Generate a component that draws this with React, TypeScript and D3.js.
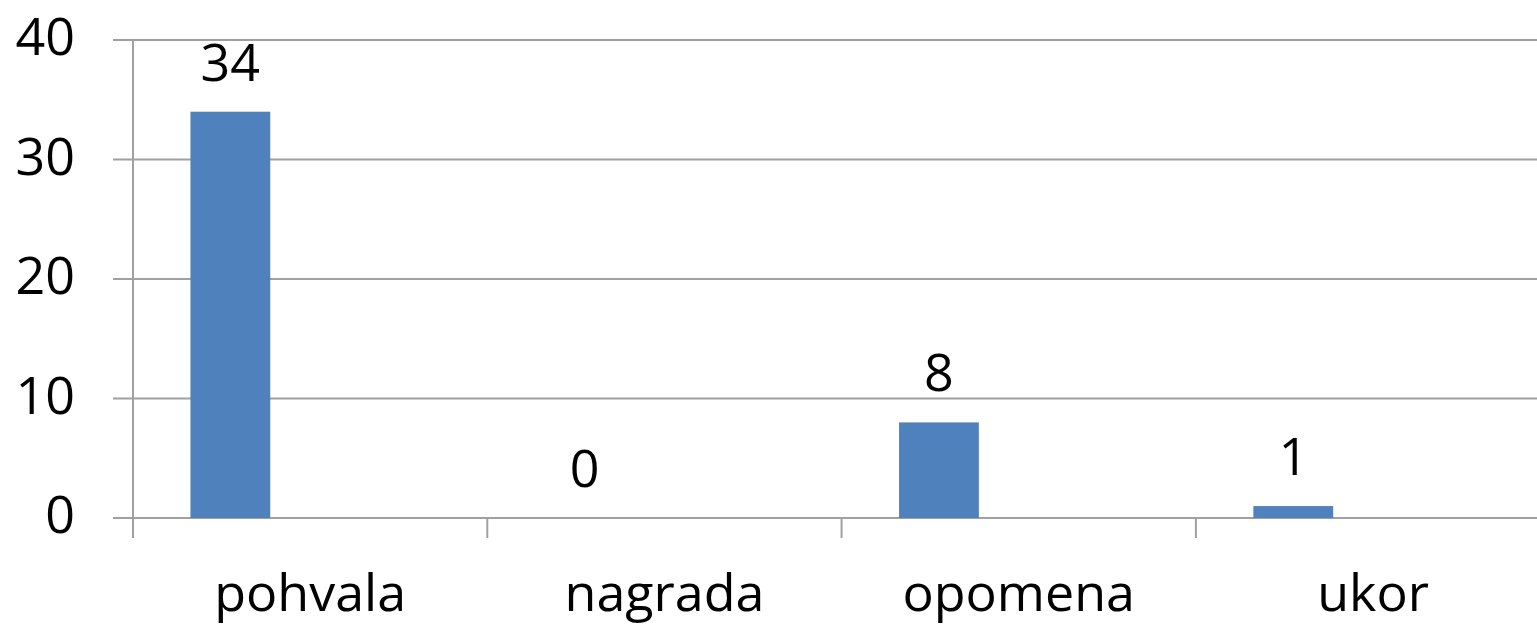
import React from "react";
import * as d3 from "d3";

const categories = ["pohvala", "nagrada", "opomena", "ukor"];
const values = [34, 0, 8, 1];
const yTicks = [0, 10, 20, 30, 40];

const W = 1537;
const H = 627;
const FONT = "'Open Sans', 'Noto Sans', sans-serif";
const FS = 52;
const GRID = "#a0a0a0";
const BAR = "#4f81bd";

export default function App() {
  const left = 133;
  const catW = 354.3;
  const x = d3
    .scaleBand<string>()
    .domain(categories)
    .range([left, left + catW * categories.length])
    .padding(0);
  const series = d3
    .scaleBand<number>()
    .domain([0, 1, 2])
    .range([0, x.bandwidth()])
    .paddingInner(0)
    .paddingOuter(0.72);
  const y = d3.scaleLinear().domain([0, 40]).range([518, 40]);

  return (
    <svg
      width={W}
      height={H}
      style={{ position: "absolute", left: 0, top: 0, background: "#fff" }}
    >
      <rect x={0} y={0} width={W} height={H} fill="#fff" />
      {yTicks.map((t) => (
        <g key={t}>
          <line x1={113} x2={W} y1={y(t)} y2={y(t)} stroke={GRID} strokeWidth={2} />
          <text
            x={75}
            y={y(t) + 15}
            textAnchor="end"
            fontFamily={FONT}
            fontSize={FS}
            fill="#000"
          >
            {t}
          </text>
        </g>
      ))}
      <line x1={left} x2={left} y1={y(40)} y2={538} stroke={GRID} strokeWidth={2} />
      {categories.map((c, i) => {
        const x0 = x(c)!;
        return (
          <g key={c}>
            {i > 0 && (
              <line x1={x0} x2={x0} y1={y(0)} y2={538} stroke={GRID} strokeWidth={2} />
            )}
            <text
              x={x0 + x.bandwidth() / 2}
              y={611}
              textAnchor="middle"
              fontFamily={FONT}
              fontSize={FS}
              fill="#000"
            >
              {c}
            </text>
          </g>
        );
      })}
      {categories.map((c, i) => {
        const bx = x(c)! + series(0)!;
        const bw = series.bandwidth();
        const v = values[i];
        return (
          <g key={"b" + c}>
            {v > 0 && (
              <rect x={bx} y={y(v)} width={bw} height={y(0) - y(v)} fill={BAR} />
            )}
            <text
              x={bx + bw / 2}
              y={y(v) - 31}
              textAnchor="middle"
              fontFamily={FONT}
              fontSize={FS}
              fill="#000"
            >
              {v}
            </text>
          </g>
        );
      })}
    </svg>
  );
}
